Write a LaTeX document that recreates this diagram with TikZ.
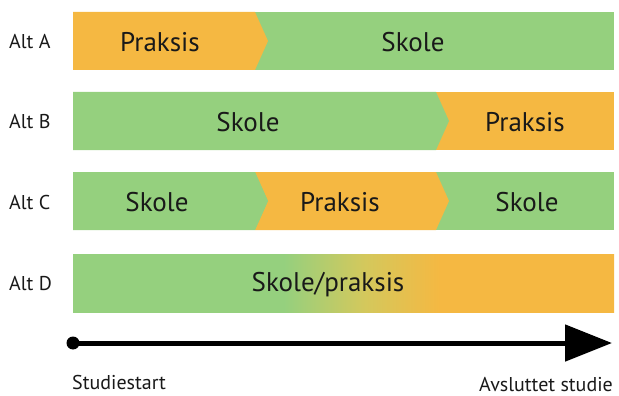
\documentclass[tikz,border=0pt]{standalone}
\usepackage{fontspec}
\setmainfont{PT Sans}
\usetikzlibrary{arrows.meta}
\definecolor{orng}{RGB}{245,184,66}
\definecolor{grn}{RGB}{149,208,126}
\definecolor{ylw}{RGB}{212,200,92}
\definecolor{txt}{RGB}{25,25,25}
\pgfdeclarehorizontalshading{altdshade}{100bp}{color(0bp)=(grn); color(44.5bp)=(grn); color(52bp)=(ylw); color(59bp)=(orng); color(100bp)=(orng)}
\tikzset{
  seglabel/.style={text=txt, font=\fontsize{27}{32}\selectfont, inner sep=0pt},
  altlabel/.style={text=txt, font=\fontsize{20}{24}\selectfont, inner sep=0pt, anchor=west},
  axislabel/.style={text=txt, font=\fontsize{20}{24}\selectfont, inner sep=0pt},
}
\begin{document}
\begin{tikzpicture}[x=1pt,y=-1pt]
\useasboundingbox (0,0) rectangle (619,396);
% Alt A
\fill[grn] (73,12) rectangle (614,70);
\fill[orng] (73,12) -- (255,12) -- (268,41) -- (255,70) -- (73,70) -- cycle;
% Alt B
\fill[orng] (73,92) rectangle (614,150);
\fill[grn] (73,92) -- (436,92) -- (449,121) -- (436,150) -- (73,150) -- cycle;
% Alt C
\fill[grn] (73,172) rectangle (614,230);
\fill[orng] (255,172) -- (436,172) -- (449,201) -- (436,230) -- (255,230) -- (268,201) -- cycle;
\fill[grn] (73,172) -- (255,172) -- (268,201) -- (255,230) -- (73,230) -- cycle;
% Alt D
\shade[shading=altdshade] (73,254) rectangle (614,312);
% labels
\node[altlabel] (la) at (9,42) {Alt A};
\node[altlabel] (lb) at (9,122) {Alt B};
\node[altlabel] (lc) at (9,202) {Alt C};
\node[altlabel] (ld) at (9,284) {Alt D};
\node[seglabel] (a1) at (160,42) {Praksis};
\node[seglabel] (a2) at (413,42) {Skole};
\node[seglabel] (b1) at (248,122) {Skole};
\node[seglabel] (b2) at (525,122) {Praksis};
\node[seglabel] (c1) at (157,202) {Skole};
\node[seglabel] (c2) at (340,202) {Praksis};
\node[seglabel] (c3) at (527,202) {Skole};
\node[seglabel] (d1) at (328,285) {Skole/praksis};
% axis
\node[circle, fill=black, minimum size=13pt, inner sep=0pt] (start) at (73,343) {};
\coordinate (end) at (612,343);
\draw[line width=5pt, -{Triangle[length=47pt,width=36pt]}] (start.center) -- (end);
\node[axislabel, anchor=base west] (s) at (72,389) {Studiestart};
\node[axislabel, anchor=base east] (e) at (613,391) {Avsluttet studie};
\end{tikzpicture}
\end{document}
